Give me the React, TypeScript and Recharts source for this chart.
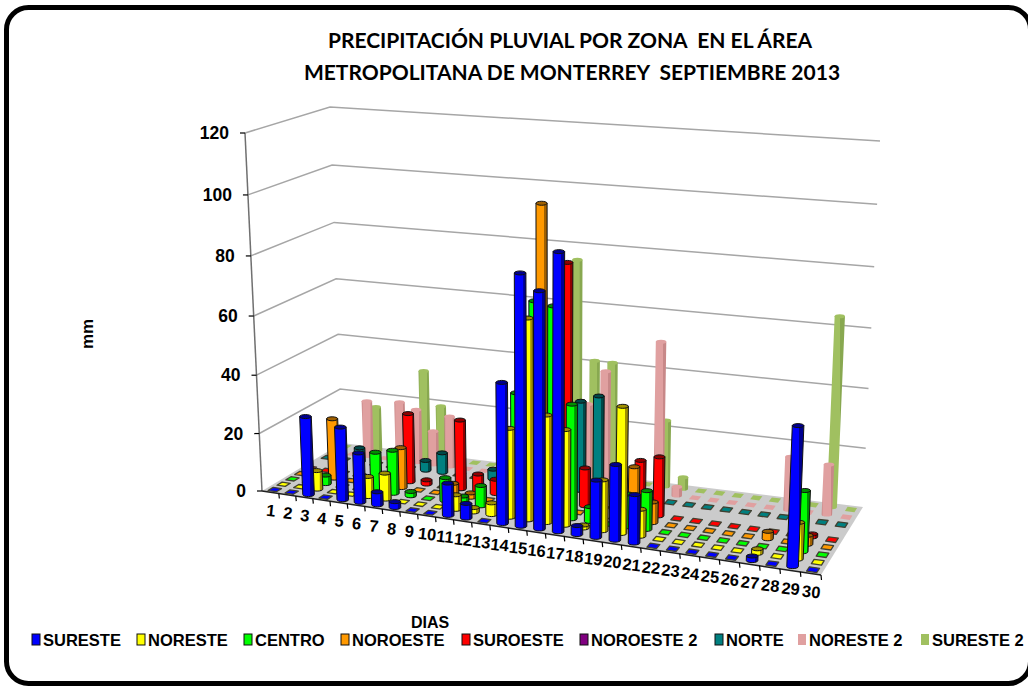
import React from "react";
import { ScatterChart, Scatter, XAxis, YAxis } from "recharts";

const WIDTH = 1028;
const HEIGHT = 688;
// the axes need one pixel each or they draw nothing
const PLOT_W = WIDTH - 1;
const PLOT_H = HEIGHT - 1;

const days = Array.from({ length: 30 }, (_, i) => i + 1);
const valueTicks = [0, 20, 40, 60, 80, 100, 120];

const sureste = [0, 0, 27, 0, 25, 17, 4.5, 2, 0, 0, 11, 5, 0, 47, 83, 78, 91, 3, 19, 25, 16, 0, 0, 0, 0, 0, 1.5, 0, 45, 0];
const noreste = [0, 0, 6.5, 0, 0, 7, 9, 0, 0, 0, 5, 1.5, 4, 30, 67, 36, 32, 1, 17, 42, 9, 0, 0, 0, 0, 0, 1.5, 0, 12, 0];
const centro = [0, 0, 3, 0, 0, 13.5, 15, 1.5, 0, 8, 2.5, 7, 0, 40, 71, 70, 38.5, 5, 0, 11, 13, 0, 0, 0, 0, 0, 0, 0, 20, 0];
const noroeste = [0, 0, 21, 0, 0, 3, 14, 0, 0, 4, 1.5, 0, 0, 0, 101, 0, 0, 0, 0, 18, 7, 0, 0, 0, 0, 0, 2.5, 0, 3, 0];
const suroeste = [0, 0, 0, 0, 0, 0, 24, 1.5, 0, 24, 6, 5, 0, 0, 0, 81, 13, 0, 0, 18, 20, 0, 0, 0, 0, 0, 0, 0, 1, 0];
const noroeste2: number[] = [];
const norte = [0, 0, 5, 0, 0, 0, 3.5, 7, 0, 0, 3.5, 0, 0, 0, 0, 31, 33.5, 0, 0, 0, 0, 0, 0, 0, 0, 0, 0, 0, 0, 0];
const noreste2 = [0, 0, 20, 0, 21, 19, 12, 18, 0, 0, 0, 0, 0, 0, 0, 28, 40, 0, 0, 52, 3, 0, 0, 0, 0, 0, 18, 0, 17, 0];
const sureste2 = [0, 0, 16, 0, 0, 31, 19, 0, 0, 0, 0, 0, 0, 0, 75, 41, 41, 0, 0, 23, 4, 0, 0, 0, 0, 0, 0, 0, 64, 0];

const seriesNames = ["SURESTE", "NORESTE", "CENTRO", "NOROESTE", "SUROESTE", "NOROESTE 2", "NORTE", "NORESTE 2", "SURESTE 2"];
const seriesValues = [sureste, noreste, centro, noroeste, suroeste, noroeste2, norte, noreste2, sureste2];
const seriesColors = ["#0000ff", "#ffff00", "#00ff00", "#ff9900", "#ff0000", "#800080", "#008080", "#e0a0a0", "#a0c060"];
const seriesShades = ["#000090", "#a09000", "#009000", "#a06000", "#900000", "#500050", "#004848", "#c88888", "#88a850"];
const legendX = [32, 137, 244, 341, 462, 580, 715, 798, 921];

type Pt = { x: number; y: number };

// floor and top planes of the 3d box, on screen: front-left, front-right, back-right, back-left
const floorQuad: Pt[] = [{ x: 262, y: 491 }, { x: 821, y: 575 }, { x: 863, y: 507 }, { x: 342, y: 443 }];
const topQuad: Pt[] = [{ x: 245, y: 133 }, { x: 838, y: 185 }, { x: 880, y: 141 }, { x: 330, y: 107 }];

// days get a little wider to the right and values a little taller upwards, as in the picture's perspective
const DAY_WARP = -0.1;
const VALUE_WARP = -0.044;
const warp = (t: number, g: number) => ((1 + g) * t) / (1 + g * t);

const lerp = (a: Pt, b: Pt, t: number): Pt => ({ x: a.x + (b.x - a.x) * t, y: a.y + (b.y - a.y) * t });

const onPlane = (q: Pt[], u: number, w: number) => lerp(lerp(q[0], q[1], u), lerp(q[3], q[2], u), w);

// u across the days, w across the zones, v up the value axis, all 0..1
const project = (u: number, w: number, v: number): Pt => {
	const t = warp(u, DAY_WARP);
	return lerp(onPlane(floorQuad, t, w), onPlane(topQuad, t, w), warp(v, VALUE_WARP));
};

const polygon = (pts: Pt[]) => pts.map((p) => `${p.x.toFixed(1)},${p.y.toFixed(1)}`).join(" ");

// turns the scaled scatter point back into box coordinates and draws a cylinder there
const Cylinder = (props: any) => {
	const { cx, cy, zone } = props;
	const u = (cx - 1) / PLOT_W;
	const v = 1 - cy / PLOT_H;
	const w = (zone + 0.5) / 9;
	const color = seriesColors[zone];
	const shade = seriesShades[zone];
	const flat = zone >= 7;
	const edge = flat ? "none" : "#101010";
	if (v <= 0) {
		const du = 0.0082;
		const dw = 0.032;
		const pts = [project(u - du, w - dw, 0), project(u + du, w - dw, 0), project(u + du, w + dw, 0), project(u - du, w + dw, 0)];
		return (
			<polygon
				points={polygon(pts)}
				fill={color}
				stroke={flat ? "none" : "#404030"}
				strokeWidth={1.3}
				strokeLinejoin="round"
			/>
		);
	}
	const bottom = project(u, w, 0);
	const top = project(u, w, v);
	const rx = 5.8 - 0.08 * zone;
	const ry = 2;
	const lean = top.x - bottom.x;
	const body = `M${bottom.x - rx},${bottom.y} A${rx},${ry} 0 0 0 ${bottom.x + rx},${bottom.y} L${bottom.x + lean + rx},${top.y} L${bottom.x + lean - rx},${top.y} Z`;
	return (
		<g>
			<path d={body} fill={`url(#bar-${zone})`} stroke={edge} strokeWidth={1} />
			<ellipse cx={top.x} cy={top.y} rx={rx} ry={ry} fill={flat ? color : shade} stroke={edge} strokeWidth={1} />
		</g>
	);
};

const Walls = () => {
	const floor = [project(0, 0, 0), project(1, 0, 0), project(1, 1, 0), project(0, 1, 0)];
	return (
		<g>
			<defs>
				{seriesColors.map((c, i) => (
					<linearGradient key={c} id={`bar-${i}`} x1="0" y1="0" x2="1" y2="0">
						<stop offset="0%" stopColor={i >= 7 ? seriesShades[i] : c} />
						<stop offset="15%" stopColor={c} />
						<stop offset="72%" stopColor={c} />
						<stop offset="74%" stopColor={seriesShades[i]} />
						<stop offset="100%" stopColor={seriesShades[i]} />
					</linearGradient>
				))}
			</defs>
			<rect x={6.5} y={7.5} width={1024} height={676} rx={22} fill="#ffffff" stroke="#000000" strokeWidth={5} />
			{valueTicks.slice(1).map((t) => {
				const v = t / 120;
				const pts = [project(0, 0, v), project(0, 1, v), project(1, 1, v)];
				return <polyline key={t} points={polygon(pts)} fill="none" stroke="#a6a6a6" strokeWidth={1.5} />;
			})}
			<polygon points={polygon(floor)} fill="#cbcbcb" />
			<line x1={262} y1={491} x2={245} y2={133} stroke="#707070" strokeWidth={1.5} />
			<line x1={262} y1={491} x2={821} y2={575} stroke="#202020" strokeWidth={1.5} />
			<text x={570} y={48} textAnchor="middle" fontFamily="Lato" fontWeight={700} fontSize={21} fill="#000" style={{ whiteSpace: "pre" }}>
				PRECIPITACIÓN PLUVIAL POR ZONA  EN EL ÁREA
			</text>
			<text x={572} y={80} textAnchor="middle" fontFamily="Lato" fontWeight={700} fontSize={21} fill="#000" style={{ whiteSpace: "pre" }}>
				METROPOLITANA DE MONTERREY  SEPTIEMBRE 2013
			</text>
			<text x={430} y={628} textAnchor="middle" fontFamily="Liberation Sans" fontWeight={700} fontSize={16} fill="#000">
				DIAS
			</text>
			<text transform="translate(93,334) rotate(-90)" textAnchor="middle" fontFamily="Liberation Sans" fontWeight={700} fontSize={17} fill="#000">
				mm
			</text>
			{seriesNames.map((name, i) => (
				<g key={name}>
					<rect x={legendX[i]} y={634} width={8} height={11} fill={seriesColors[i]} stroke={i >= 7 ? "none" : "#101010"} strokeWidth={1} />
					<text x={legendX[i] + 11} y={646} fontFamily="Liberation Sans" fontWeight={700} fontSize={16.5} fill="#000">
						{name}
					</text>
				</g>
			))}
		</g>
	);
};

const DayTick = (props: any) => {
	const day = props.payload.value;
	const mark = project(day / 30, 0, 0);
	const label = project(((props.x as number) - 1) / PLOT_W, 0, 0);
	return (
		<g>
			<line x1={mark.x} y1={mark.y} x2={mark.x + 0.5} y2={mark.y + 5} stroke="#000" strokeWidth={1.2} />
			<text
				transform={`translate(${label.x},${label.y + 24}) rotate(6)`}
				textAnchor="middle"
				fontFamily="Liberation Sans"
				fontWeight={700}
				fontSize={16.5}
				fill="#000"
			>
				{day}
			</text>
		</g>
	);
};

const ValueTick = (props: any) => {
	const p = project(0, 0, 1 - (props.y as number) / PLOT_H);
	return (
		<g>
			<line x1={p.x - 5} y1={p.y} x2={p.x} y2={p.y} stroke="#000" strokeWidth={1.2} />
			<text x={p.x - 16} y={p.y + 6} textAnchor="end" fontFamily="Liberation Sans" fontWeight={700} fontSize={17.5} fill="#000">
				{props.payload.value}
			</text>
		</g>
	);
};

export default function App() {
	// back rows first so the front rows paint over them
	const order = seriesNames.map((_, i) => 8 - i);
	return (
		<div style={{ position: "absolute", left: 0, top: 0, width: WIDTH, height: HEIGHT, background: "#fff" }}>
			<ScatterChart width={WIDTH} height={HEIGHT} margin={{ top: 0, right: 0, bottom: 0, left: 0 }}>
				<Walls />
				<XAxis
					type="number"
					dataKey="day"
					domain={[0.5, 30.5]}
					ticks={days}
					interval={0}
					height={1}
					axisLine={false}
					tickLine={false}
					tick={<DayTick />}
				/>
				<YAxis
					type="number"
					dataKey="value"
					domain={[0, 120]}
					ticks={valueTicks}
					interval={0}
					width={1}
					axisLine={false}
					tickLine={false}
					tick={<ValueTick />}
				/>
				{order.map((zone) => (
					<Scatter
						key={seriesNames[zone]}
						name={seriesNames[zone]}
						data={seriesValues[zone].map((value, i) => ({ day: days[i], value }))}
						isAnimationActive={false}
						shape={(p: any) => <Cylinder {...p} zone={zone} />}
					/>
				))}
			</ScatterChart>
		</div>
	);
}
